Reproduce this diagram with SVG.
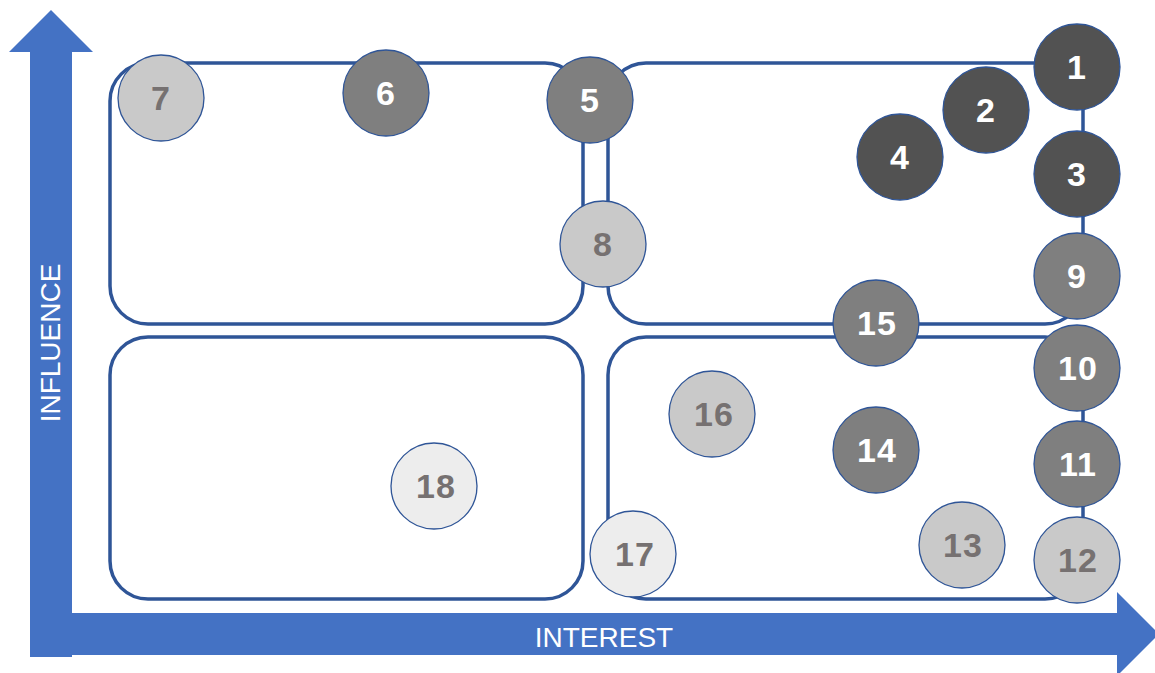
<svg xmlns="http://www.w3.org/2000/svg" width="1155" height="673" viewBox="0 0 1155 673">
<style>
.quad{fill:none;stroke:#2F5597;stroke-width:3.5}
.n circle{stroke:#2F5597;stroke-width:1.3}
.n text{font-family:"Liberation Sans",Arial,sans-serif;font-weight:bold;font-size:34px;text-anchor:middle;letter-spacing:1px}
.d circle{fill:#525252}
.m circle{fill:#7F7F7F}
.l circle{fill:#C9C9C9}
.x circle{fill:#EDEDED}
.d text,.m text{fill:#FFFFFF}
.l text,.x text{fill:#767171}
.axl{font-family:"Liberation Sans",Arial,sans-serif;font-size:28px;fill:#FFFFFF;text-anchor:middle}
</style>
<rect width="1155" height="673" fill="#FFFFFF"/>
<g id="axes">
<polygon fill="#4472C4" points="51,10 93,52 72,52 72,613 1117,613 1117,592 1159,634 1117,676 1117,655 72,655 72,657 30,657 30,52 9,52"/>
<text class="axl" transform="translate(60,343) rotate(-90)">INFLUENCE</text>
<text class="axl" x="604" y="647">INTEREST</text>
</g>
<g id="quadrants">
<rect class="quad" x="110" y="63" width="473" height="261" rx="38"/>
<rect class="quad" x="608" y="63" width="475" height="261" rx="38"/>
<rect class="quad" x="110" y="337" width="473" height="262" rx="38"/>
<rect class="quad" x="608" y="337" width="475" height="262" rx="38"/>
</g>
<g id="n7" class="n l"><circle cx="161" cy="98" r="43"/><text x="161" y="110">7</text></g>
<g id="n6" class="n m"><circle cx="386" cy="93" r="43"/><text x="386" y="105">6</text></g>
<g id="n5" class="n m"><circle cx="590" cy="100" r="43"/><text x="590" y="112">5</text></g>
<g id="n8" class="n l"><circle cx="603" cy="244" r="43"/><text x="603" y="256">8</text></g>
<g id="n1" class="n d"><circle cx="1077" cy="67" r="43"/><text x="1077" y="79">1</text></g>
<g id="n2" class="n d"><circle cx="986" cy="110" r="43"/><text x="986" y="122">2</text></g>
<g id="n4" class="n d"><circle cx="900" cy="157" r="43"/><text x="900" y="169">4</text></g>
<g id="n3" class="n d"><circle cx="1077" cy="174" r="43"/><text x="1077" y="186">3</text></g>
<g id="n9" class="n m"><circle cx="1077" cy="276" r="43"/><text x="1077" y="288">9</text></g>
<g id="n15" class="n m"><circle cx="876" cy="323" r="43"/><text x="877" y="335">15</text></g>
<g id="n10" class="n m"><circle cx="1077" cy="368" r="43"/><text x="1078" y="380">10</text></g>
<g id="n16" class="n l"><circle cx="712" cy="414" r="43"/><text x="714" y="426">16</text></g>
<g id="n14" class="n m"><circle cx="876" cy="450" r="43"/><text x="877" y="462">14</text></g>
<g id="n11" class="n m"><circle cx="1077" cy="464" r="43"/><text x="1078" y="476">11</text></g>
<g id="n18" class="n x"><circle cx="434" cy="486" r="43"/><text x="436" y="498">18</text></g>
<g id="n13" class="n l"><circle cx="962" cy="545" r="43"/><text x="963" y="557">13</text></g>
<g id="n17" class="n x"><circle cx="633" cy="554" r="43"/><text x="635" y="566">17</text></g>
<g id="n12" class="n l"><circle cx="1077" cy="560" r="43"/><text x="1078" y="572">12</text></g>
</svg>
